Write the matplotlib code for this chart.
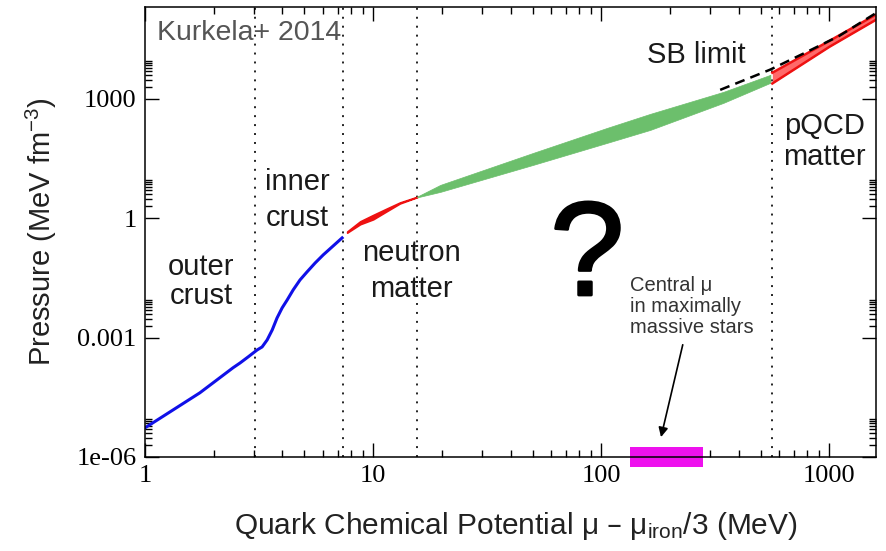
import numpy as np
import matplotlib
matplotlib.use('Agg')
from matplotlib import pyplot as plt
from matplotlib import ticker
from matplotlib import patheffects

plt.rcParams['font.family'] = ['Liberation Sans', 'DejaVu Sans']
plt.rcParams['mathtext.default'] = 'regular'

# crust (outer + inner), blue
mu_crust = [1.0, 1.74, 2.43, 2.61, 2.83, 3.10, 3.26, 3.43, 3.61, 3.79, 3.99,
            4.20, 4.46, 4.78, 5.13, 5.57, 6.04, 6.68, 7.31]
p_crust = [5.4e-6, 4.1e-5, 1.74e-4, 2.30e-4, 3.26e-4, 4.88e-4, 5.81e-4, 8.71e-4,
           1.55e-3, 3.10e-3, 5.55e-3, 8.81e-3, 0.0157, 0.0280, 0.0445, 0.0748,
           0.119, 0.200, 0.318]

# neutron matter band, red
mu_nm = [7.69, 8.77, 10.0, 11.5, 13.1, 15.6]
p_nm_lo = [0.43, 0.70, 0.93, 1.50, 2.33, 3.35]
p_nm_hi = [0.46, 0.83, 1.20, 1.75, 2.47, 3.43]

# interpolating band, green
mu_mid = [15.6, 19.7, 50.3, 106.0, 164.0, 343.0, 551.0]
p_mid_lo = [3.31, 4.55, 21.7, 77.4, 164.0, 783.0, 2495.0]
p_mid_hi = [3.47, 6.82, 43.4, 184.0, 415.0, 1480.0, 3963.0]

# perturbative QCD band, red
mu_pqcd = [562.0, 1000.0, 1600.0]
p_pqcd_lo = [2400.0, 20000.0, 95500.0]
p_pqcd_hi = [4467.0, 28200.0, 128800.0]

# Stefan-Boltzmann limit, dashed
mu_sb = [332.0, 551.0, 800.0, 1100.0, 1600.0]
p_sb = [1660.0, 5370.0, 15100.0, 37150.0, 141000.0]

# region boundaries
mu_bounds = [3.04, 7.4, 15.6, 562.0]

# central mu range in maximally massive stars
mu_central = [133.0, 280.0]

fig = plt.figure(figsize=(8.87, 5.51), dpi=100)
ax = fig.add_axes([0.1635, 0.1706, 0.8241, 0.8167])
ax.set_xscale('log')
ax.set_yscale('log')
ax.set_xlim(1, 1600)
ax.set_ylim(1e-6, 2e5)

for b in mu_bounds:
    ax.axvline(b, color='#222222', lw=1.4, ls=(0, (1, 3.6)), zorder=1)

ax.plot(mu_crust, p_crust, color='#1010e8', lw=2.2, zorder=3)

ax.fill_between(mu_nm, p_nm_lo, p_nm_hi, color='#ee1111', lw=1.2, zorder=3)
ax.fill_between(mu_mid, p_mid_lo, p_mid_hi, color='#6cbf6c', lw=0.5,
                edgecolor='#6cbf6c', zorder=3)

ax.plot(mu_sb, p_sb, color='k', lw=1.8, ls=(0, (4, 2.5)), zorder=4)
ax.fill_between(mu_pqcd, p_pqcd_lo, p_pqcd_hi, color='#ff6a6a', lw=0, zorder=3)
ax.plot(mu_pqcd, p_pqcd_lo, color='#ee1111', lw=1.8, zorder=3)
ax.plot(mu_pqcd, p_pqcd_hi, color='#ee1111', lw=1.8, zorder=3)

ax.axvspan(mu_central[0], mu_central[1], ymin=-0.022, ymax=0.022,
           color='#ee11ee', lw=0, clip_on=False, zorder=2)

# ticks, gnuplot style
ax.set_yticks([1e-6, 1e-3, 1, 1e3])
ax.set_yticklabels(['1e-06', '0.001', '1', '1000'])
ax.yaxis.set_minor_locator(ticker.LogLocator(base=1000.0, subs=np.arange(2, 10), numticks=20))
ax.yaxis.set_minor_formatter(ticker.NullFormatter())
ax.set_xticks([1, 10, 100, 1000])
ax.set_xticklabels(['1', '10', '100', '1000'])
ax.tick_params(which='both', direction='in', top=True, right=True, width=1.0)
ax.tick_params(which='major', length=10)
ax.tick_params(which='minor', length=5)
ax.tick_params(axis='x', pad=6)
ax.tick_params(axis='y', pad=6)
for lab in ax.get_xticklabels() + ax.get_yticklabels():
    lab.set_family('Liberation Serif')
    lab.set_fontsize(19)
for s in ax.spines.values():
    s.set_linewidth(1.1)
    s.set_zorder(5)

ax.set_xlabel(r'Quark Chemical Potential μ – μ$_{iron}$/3 (MeV)', fontsize=21.5, color='#222222')
ax.set_ylabel(r'Pressure (MeV fm$^{-3}$)', fontsize=21, color='#222222')
ax.xaxis.set_label_coords(0.507, -0.118)
ax.yaxis.set_label_coords(-0.118, 0.5)

ax.text(0.016, 0.927, 'Kurkela+ 2014', transform=ax.transAxes, fontsize=20.5,
        color='#555555', ha='left', va='baseline')

lab_kw = dict(transform=ax.transAxes, fontsize=21, color='#1a1a1a', ha='center', va='baseline')
ax.text(0.0766, 0.34, 'outer\ncrust', linespacing=1.05, **lab_kw)
ax.text(0.209, 0.513, 'inner\ncrust', linespacing=1.35, **lab_kw)
ax.text(0.365, 0.356, 'neutron\nmatter', linespacing=1.35, **lab_kw)
ax.text(0.754, 0.876, 'SB limit', **lab_kw)
ax.text(0.930, 0.649, 'pQCD\nmatter', linespacing=1.15, **lab_kw)

ax.text(0.605, 0.36, '?', transform=ax.transAxes, fontsize=96, color='k',
        ha='center', va='baseline',
        path_effects=[patheffects.withStroke(linewidth=2, foreground='k')])

ax.annotate('', xy=(181.5, 2.7e-6), xytext=(229.0, 7.7e-4),
            arrowprops=dict(arrowstyle='-|>', color='k', lw=1.2, mutation_scale=14))
ax.text(0.663, 0.2756, 'Central μ\nin maximally\nmassive stars', transform=ax.transAxes,
        fontsize=14.5, color='#333333', ha='left', va='baseline', linespacing=1.12)

plt.savefig('out.png', dpi=100)
